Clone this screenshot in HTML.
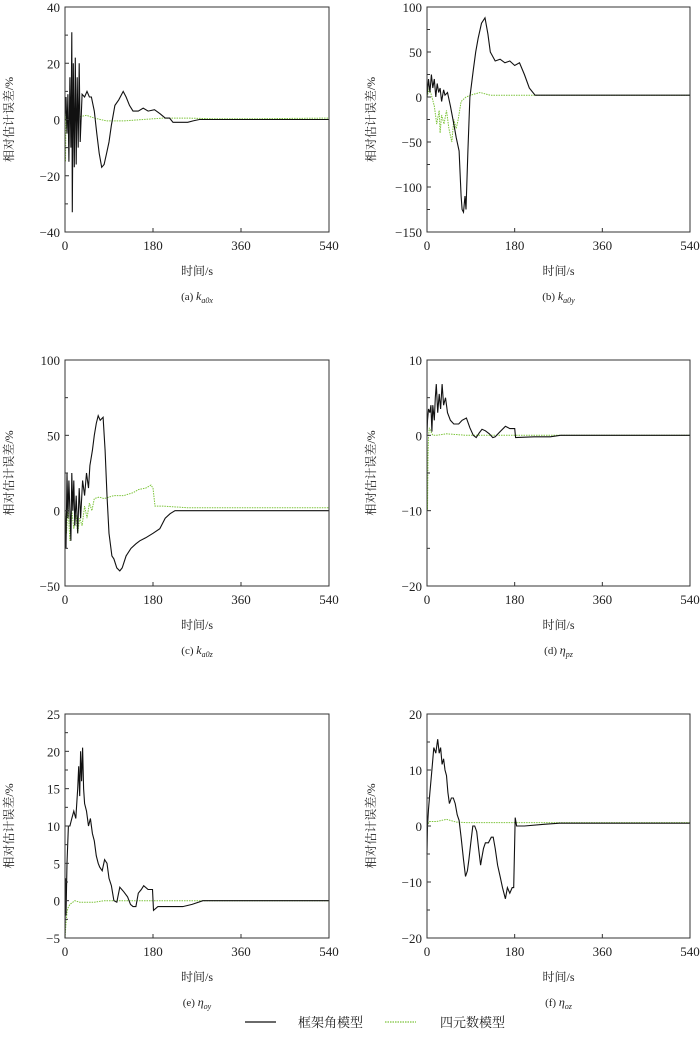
<!DOCTYPE html>
<html><head><meta charset="utf-8">
<style>
body{margin:0;background:#fff;width:700px;height:1041px;overflow:hidden}
svg text{font-family:"Liberation Serif","Noto Serif CJK SC",serif;fill:#222}
</style></head>
<body>
<svg id="fig" width="700" height="1041" viewBox="0 0 700 1041" xmlns="http://www.w3.org/2000/svg">
<g>
<line x1="245" y1="1022" x2="276" y2="1022" stroke="#111" stroke-width="1.2"/>
<text x="298" y="1027" font-size="13">框架角模型</text>
<line x1="385" y1="1022" x2="416" y2="1022" stroke="#7cc43a" stroke-width="1.2" stroke-dasharray="1.5,1"/>
<text x="440" y="1027" font-size="13">四元数模型</text>
</g>
</svg>
<script>
const xTicks=[0,180,360,540];
const aYTicks=[-40,-20,0,20,40];
const aBlackT=[0,2,4,6,8,10,12,14,15,17,19,21,23,25,27,29,31,35,40,45,50,54,60,65,70,75,80,85,90,95,102,110,119,125,132,139,150,160,170,183,195,205,214,221,240,251,262,275,320,400,540];
const aBlackV=[0,8,-5,9,-15,15,-10,31,-33,20,-17,22,-16,15,-10,20,-8,9,8,10,8,8,3,-5,-12,-17,-16,-12,-8,-2,5,7,10,8,5,3,3,4,3,3.5,2,0.5,0.5,-1,-1,-1,-0.5,0,0,0,0];
const aGreenT=[0,1,2,3,5,15,30,44,60,85,120,160,200,250,300,400,540];
const aGreenV=[0,-15,5,-3,0,0.5,1,1.5,0.5,-0.5,-0.5,0,0.5,0.5,0.3,0.3,0.5];
const bYTicks=[-150,-100,-50,0,50,100];
const bBlackT=[0,3,6,9,12,15,18,21,24,27,30,34,37,42,48,55,60,66,70,72,75,78,80,84,88,95,100,105,112,119,125,130,140,150,160,170,180,190,200,210,222,300,400,540];
const bBlackV=[0,20,5,25,10,20,0,15,5,10,-5,8,2,5,-10,-30,-45,-60,-110,-125,-128,-110,-125,-60,0,30,50,65,82,88,70,50,40,42,38,40,35,38,25,10,2,2,2,2];
const bGreenT=[0,5,10,15,20,25,27,30,35,40,45,51,55,60,64,70,80,95,109,130,160,540];
const bGreenV=[0,10,0,-10,-30,-15,-40,-20,-30,-15,-35,-50,-25,-35,-25,-5,0,3,5,2,2,2];
const cYTicks=[-50,0,50,100];
const cBlackT=[0,2,4,6,8,10,12,14,16,18,20,23,26,29,32,36,40,44,48,51,56,60,64,68,72,78,82,86,90,96,100,106,112,117,125,135,145,153,165,180,194,205,215,225,260,300,400,540];
const cBlackV=[0,-25,25,-5,20,0,-20,25,0,20,-10,10,-15,15,-5,20,10,25,15,30,40,50,58,63,60,62,40,10,-15,-30,-32,-38,-40,-38,-30,-25,-22,-20,-18,-15,-12,-5,-2,0,0,0,0,0];
const cGreenT=[0,3,6,10,14,18,22,26,30,35,40,45,50,55,60,70,80,100,120,140,150,165,176,180,184,200,250,540];
const cGreenV=[0,-15,5,-20,0,-12,-3,-15,-5,-10,3,-5,5,0,8,9,8,10,10,12,14,15,17,15,3,3,2,2];
const dYTicks=[-20,-10,0,10];
const dBlackT=[0,1,3,6,8,10,12,15,17,19,22,25,28,31,34,38,42,48,55,60,65,72,81,88,95,101,107,113,120,128,135,140,150,161,170,180,182,220,253,274,540];
const dBlackV=[0,2,3.5,3,4,0.5,4,2,5,6.8,3,5.5,3.5,6.8,4,5,3,2,1.5,1.5,1.5,2,2.3,1,0,-0.3,0.3,0.8,0.6,0.2,-0.3,-0.2,0.5,1.2,0.9,0.9,-0.3,-0.2,-0.2,0,0];
const dGreenT=[0,1,2,3,5,8,12,20,40,80,540];
const dGreenV=[0,-10,-3,0,1,0.5,0,0,0.2,0,0];
const eYTicks=[-5,0,5,10,15,20,25];
const eBlackT=[0,1,2,4,7,10,14,18,22,26,28,30,32,34,36,38,40,44,48,52,56,60,64,68,71,76,81,86,90,95,100,106,112,120,128,134,139,145,150,156,161,170,179,181,190,241,260,282,300,540];
const eBlackV=[-5,3,-2,5,10,10,11,12,11,15,18,14,20,16,20.5,15,13,12,10,11,9,8,6,5,4.5,4,5.5,5,3,2,0,-0.2,1.8,1.2,0.5,-0.5,-0.8,-0.8,1,1.5,2,1.5,1.5,-1.3,-0.8,-0.8,-0.5,0,0,0];
const eGreenT=[0,2,4,6,10,20,30,60,80,100,540];
const eGreenV=[-5,-3,-1.5,-1,-0.5,0,-0.2,-0.2,0,0,0];
const fYTicks=[-20,-10,0,10,20];
const fBlackT=[0,1,3,6,10,14,18,22,25,28,31,34,37,40,43,46,50,54,58,62,66,70,75,79,83,86,90,94,98,102,106,110,112,116,120,126,132,136,140,145,150,155,161,165,170,175,178,181,184,200,240,272,300,540];
const fBlackV=[-5,0,3,6,10,14,13,15.5,13,14,11,12,10,9,6,4,5,5,4,2,1,-2,-6,-9,-8,-6,-3,0,0,-1,-4,-7,-6,-4,-3,-3,-2,-2,-4,-7,-9,-11,-13,-11,-12,-11,-11,1.5,0,0,0.3,0.5,0.5,0.5];
const fGreenT=[0,5,20,40,60,80,540];
const fGreenV=[0,0.8,0.8,1.2,0.7,0.6,0.6];

const NS='http://www.w3.org/2000/svg';
const svg=document.getElementById('fig');
function mk(tag,attrs){const e=document.createElementNS(NS,tag);for(const k in attrs)e.setAttribute(k,attrs[k]);return e;}
const panels=[
 {id:'a',x0:65,x1:329,y0:7,y1:232,yt:aYTicks,bt:aBlackT,bv:aBlackV,gt:aGreenT,gv:aGreenV,sub:'a0x',letter:'a'},
 {id:'b',x0:427,x1:690,y0:7,y1:232,yt:bYTicks,bt:bBlackT,bv:bBlackV,gt:bGreenT,gv:bGreenV,sub:'a0y',letter:'b'},
 {id:'c',x0:65,x1:329,y0:360,y1:586,yt:cYTicks,bt:cBlackT,bv:cBlackV,gt:cGreenT,gv:cGreenV,sub:'a0z',letter:'c'},
 {id:'d',x0:427,x1:690,y0:360,y1:586,yt:dYTicks,bt:dBlackT,bv:dBlackV,gt:dGreenT,gv:dGreenV,sub:'pz',letter:'d',eta:true},
 {id:'e',x0:65,x1:329,y0:714,y1:938,yt:eYTicks,bt:eBlackT,bv:eBlackV,gt:eGreenT,gv:eGreenV,sub:'oy',letter:'e',eta:true},
 {id:'f',x0:427,x1:690,y0:714,y1:938,yt:fYTicks,bt:fBlackT,bv:fBlackV,gt:fGreenT,gv:fGreenV,sub:'oz',letter:'f',eta:true}
];
panels.forEach(p=>{
 const ymin=p.yt[0],ymax=p.yt[p.yt.length-1];
 const X=t=>p.x0+(t/540)*(p.x1-p.x0);
 const Y=v=>p.y1-(v-ymin)/(ymax-ymin)*(p.y1-p.y0);
 const g=mk('g',{});
 
 
 svg.appendChild(g);
 const toPts=(T,V)=>T.map((t,i)=>X(t).toFixed(1)+','+Y(V[i]).toFixed(1)).join(' ');
 const gl=mk('polyline',{points:toPts(p.gt,p.gv),fill:'none',stroke:'#7cc43a','stroke-width':1,'stroke-dasharray':'1.5,1'});
 
 
 g.appendChild(gl);
 const bl=mk('polyline',{points:toPts(p.bt,p.bv),fill:'none',stroke:'#111','stroke-width':1.1});
 
 
 g.appendChild(bl);
 const box=mk('rect',{x:p.x0,y:p.y0,width:p.x1-p.x0,height:p.y1-p.y0,fill:'none',stroke:'#333','stroke-width':1});
 
 
 g.appendChild(box);
 xTicks.forEach(t=>{
  g.appendChild(mk('line',{x1:X(t),x2:X(t),y1:p.y1,y2:p.y1-4,stroke:'#333'}));
  const tx=mk('text',{x:X(t),y:p.y1+18,'font-size':13,'text-anchor':'middle'});
  tx.textContent=t;
  
  
  g.appendChild(tx);
 });
 p.yt.forEach((v,i)=>{
  g.appendChild(mk('line',{x1:p.x0,x2:p.x0+4,y1:Y(v),y2:Y(v),stroke:'#333'}));
  if(i<p.yt.length-1){const m=(v+p.yt[i+1])/2;g.appendChild(mk('line',{x1:p.x0,x2:p.x0+3,y1:Y(m),y2:Y(m),stroke:'#333'}));}
  const tx=mk('text',{x:p.x0-5,y:Y(v)+5,'font-size':13,'text-anchor':'end'});
  tx.textContent=(v<0?'\u2212'+(-v):v);
  
  
  g.appendChild(tx);
 });
 const xt=mk('text',{x:(p.x0+p.x1)/2,y:p.y1+43,'font-size':12,'text-anchor':'middle'});
 xt.textContent='时间/s';
 
 
 g.appendChild(xt);
 const cy=(p.y0+p.y1)/2,cx=p.x0-52;
 const yt=mk('text',{x:cx,y:cy,'font-size':12,'text-anchor':'middle',transform:'rotate(-90 '+cx+' '+cy+')'});
 yt.textContent='相对估计误差/%';
 
 
 g.appendChild(yt);
 const cap=mk('text',{x:(p.x0+p.x1)/2,y:p.y1+68,'font-size':11,'text-anchor':'middle'});
 cap.innerHTML='('+p.letter+') <tspan font-style="italic" font-size="12">'+(p.eta?'η':'k')+'</tspan><tspan font-style="italic" font-size="8" dy="3">'+p.sub+'</tspan>';
 
 
 g.appendChild(cap);
});
</script>
</body></html>
